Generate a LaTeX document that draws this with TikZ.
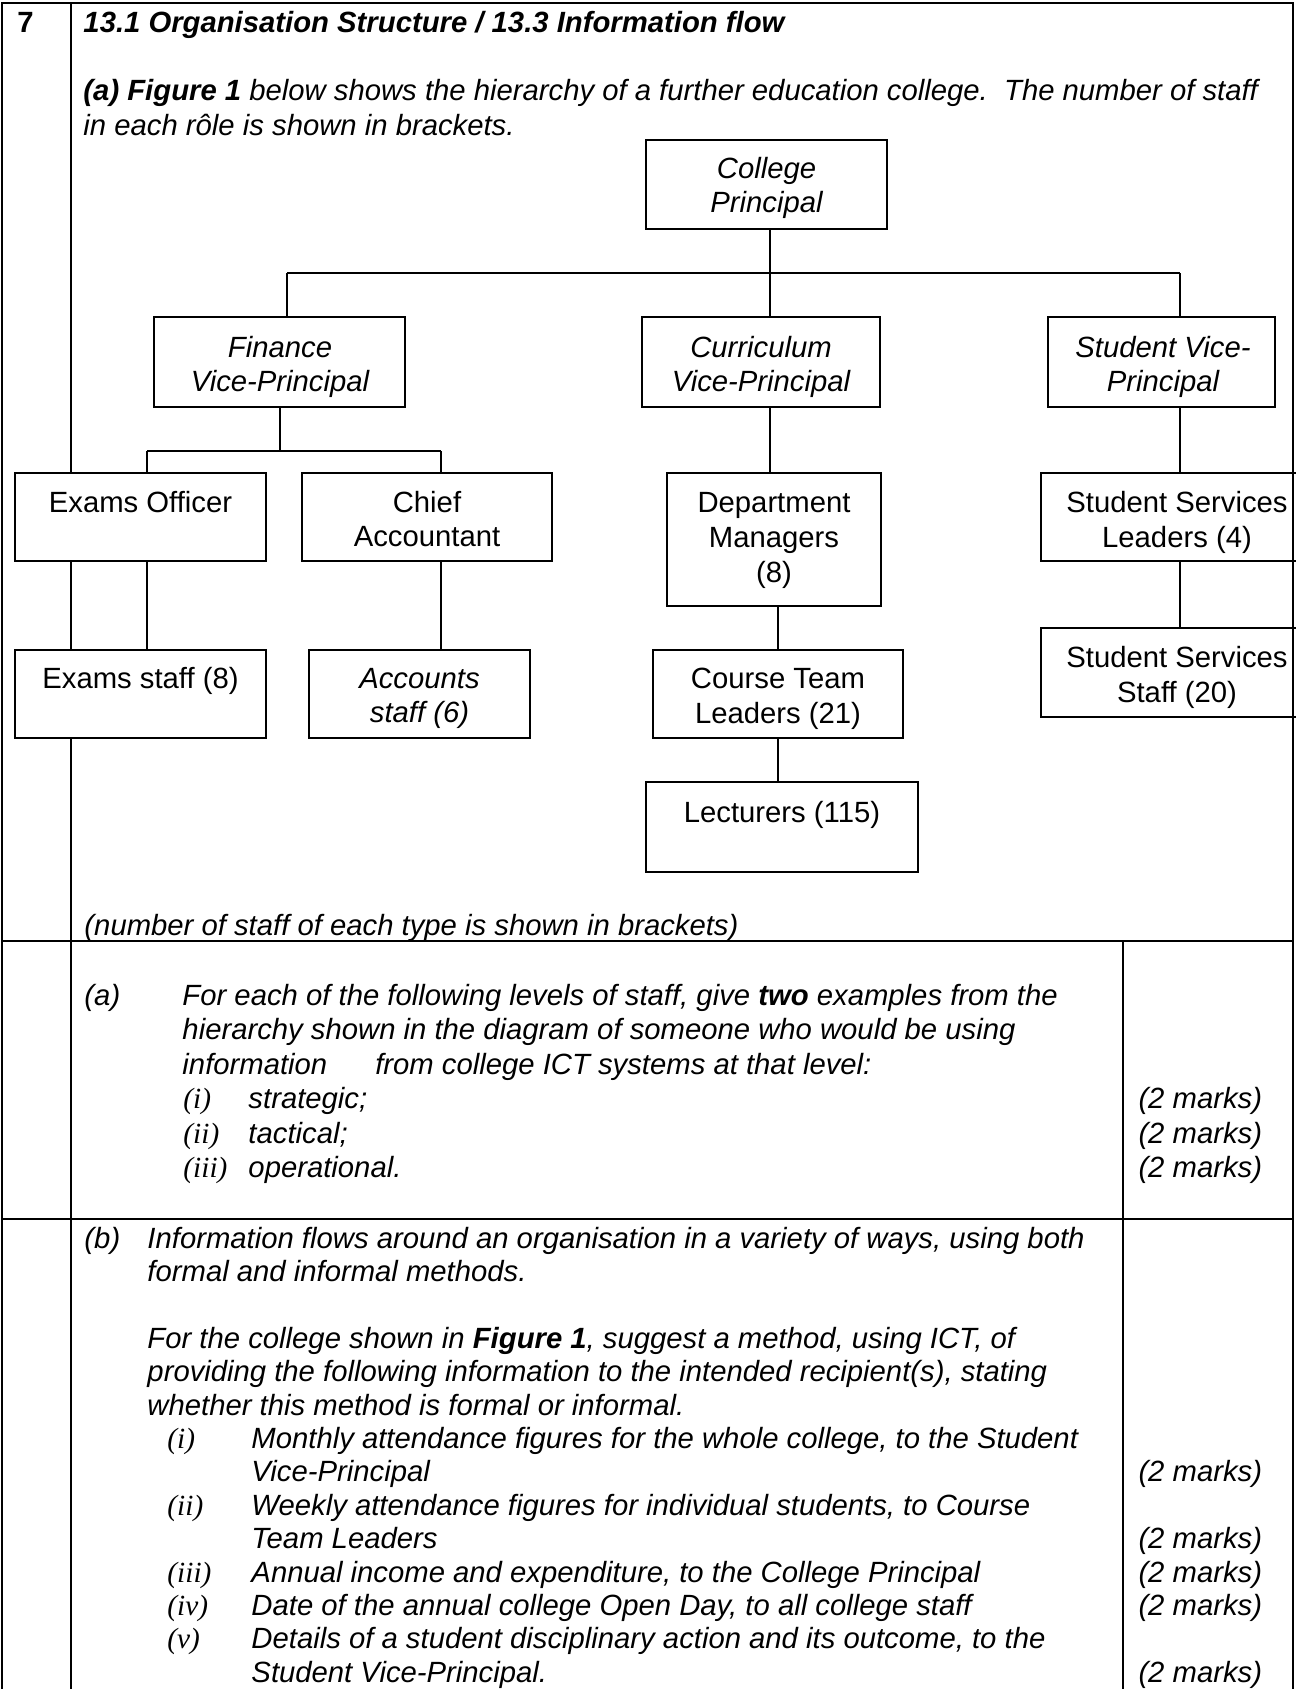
\documentclass[tikz,border=0pt]{standalone}
\usepackage{fontspec}
\setmainfont{Liberation Sans}
\newfontfamily\tms{Liberation Serif}
\usetikzlibrary{calc}
\newcommand\orgbox[5]{\node[box, minimum width={(#4-#2)*0.41pt}, minimum height={(#5-#3)*0.41pt}] (#1) at ({(#2+#4)/2},{(#3+#5)/2}) {};}
\tikzset{
 tbl/.style={line width=0.85pt, line cap=rect},
 box/.style={draw, rectangle, line width=0.6pt, fill=white, inner sep=0pt},
 conn/.style={line width=0.45pt},
 tx/.style={anchor=base west, inner sep=0pt, font=\fontsize{12}{14}\selectfont\itshape},
 txb/.style={tx, font=\fontsize{12}{14}\selectfont\bfseries\itshape},
 num/.style={tx, font=\fontsize{12}{14}\selectfont\bfseries},
 rn/.style={tx, font=\fontsize{12}{14}\selectfont\tms\itshape},
 lab/.style={anchor=base, inner sep=0pt, font=\fontsize{12}{14}\selectfont},
 labi/.style={lab, font=\fontsize{12}{14}\selectfont\itshape},
}
\begin{document}
\begin{tikzpicture}[x=0.41pt, y=-0.41pt]
\fill[white] (0,0) rectangle (1296,1689);
\useasboundingbox (0,0) rectangle (1296,1689);
\begin{scope}
\clip (0,0) rectangle (1296,1689);
% table grid
\draw[tbl] (2,3) -- (1293,3);
\draw[tbl] (2,3) -- (2,1700);
\draw[tbl] (71,3) -- (71,1700);
\draw[tbl] (2,941) -- (1293,941);
\draw[tbl] (2,1219) -- (1293,1219);
\draw[tbl] (1123,941) -- (1123,1700);

% boxes
\orgbox{cp}{646}{140}{887}{229}
\orgbox{fin}{154}{317}{405}{407}
\orgbox{cv}{642}{317}{880}{407}
\orgbox{svp}{1048}{317}{1275}{407}
\orgbox{eo}{15}{473}{266}{561}
\orgbox{ca}{302}{473}{552}{561}
\orgbox{dm}{667}{473}{881}{606}
\orgbox{ssl}{1041}{473}{1313}{561}
\orgbox{es}{15}{650}{266}{738}
\orgbox{as}{309}{650}{530}{738}
\orgbox{ctl}{653}{650}{903}{738}
\orgbox{sss}{1041}{628}{1313}{717}
\orgbox{lect}{646}{782}{918}{872}

\draw[tbl] (1293,3) -- (1293,1700);

% connectors
\coordinate (busL) at (287,273);
\coordinate (busM) at (770,273);
\coordinate (busR) at (1180,273);
\draw[conn] (busM |- cp.south) -- (busM);
\draw[conn] (busL) -- (busR);
\draw[conn] (busL) -- (busL |- fin.north);
\draw[conn] (busM) -- (busM |- cv.north);
\draw[conn] (busR) -- (busR |- svp.north);
\coordinate (fbM) at (280,451);
\coordinate (fbL) at (147,451);
\coordinate (fbR) at (441,451);
\draw[conn] (fbM |- fin.south) -- (fbM);
\draw[conn] (fbL) -- (fbR);
\draw[conn] (fbL) -- (fbL |- eo.north);
\draw[conn] (fbR) -- (fbR |- ca.north);
\draw[conn] (fbL |- eo.south) -- (fbL |- es.north);
\draw[conn] (fbR |- ca.south) -- (fbR |- as.north);
\draw[conn] (busM |- cv.south) -- (busM |- dm.north);
\coordinate (cxl) at (778,0);
\draw[conn] (cxl |- dm.south) -- (cxl |- ctl.north);
\draw[conn] (cxl |- ctl.south) -- (cxl |- lect.north);
\draw[conn] (busR |- svp.south) -- (busR |- ssl.north);
\draw[conn] (busR |- ssl.south) -- (busR |- sss.north);

% box texts
\node[labi] (cpa) at (766.5,178) {College};
\node[labi] (cpb) at (766.5,212) {Principal};
\node[labi] (fina) at (280,357) {Finance};
\node[labi] (finb) at (280,391) {Vice-Principal};
\node[labi] (cva) at (761,357) {Curriculum};
\node[labi] (cvb) at (761,391) {Vice-Principal};
\node[labi] (svpa) at (1163,357) {Student Vice-};
\node[labi] (svpb) at (1163,391) {Principal};
\node[lab] (eoa) at (140.5,512) {Exams Officer};
\node[lab] (caa) at (427,512) {Chief};
\node[lab] (cab) at (427,546) {Accountant};
\node[lab] (dma) at (774,512) {Department};
\node[lab] (dmb) at (774,547) {Managers};
\node[lab] (dmc) at (774,582) {(8)};
\node[lab] (ssla) at (1177,512) {Student Services};
\node[lab] (sslb) at (1177,547) {Leaders (4)};
\node[lab] (esa) at (140.5,688) {Exams staff (8)};
\node[labi] (asa) at (419.5,688) {Accounts};
\node[labi] (asb) at (419.5,722) {staff (6)};
\node[lab] (ctla) at (778,688) {Course Team};
\node[lab] (ctlb) at (778,723) {Leaders (21)};
\node[lab] (sssa) at (1177,667) {Student Services};
\node[lab] (sssb) at (1177,702) {Staff (20)};
\node[lab] (lecta) at (782,822) {Lecturers (115)};

% header texts
\node[num] (qnum) at (17,32) {7};
\node[txb] (title) at (83,32) {13.1 Organisation Structure / 13.3 Information flow};
\node[tx] (intro1) at (83,100.5) {\textbf{(a) Figure 1} below shows the hierarchy of a further education college.\ \ The number of staff};
\node[tx] (intro2) at (83,135) {in each rôle is shown in brackets.};
\node[tx] (capt) at (84,935) {(number of staff of each type is shown in brackets)};

% part (a)
\node[tx] (pa) at (84,1005) {(a)};
\node[tx] (pa1) at (182,1005) {For each of the following levels of staff, give \textbf{two} examples from the};
\node[tx] (pa2) at (182,1039.5) {hierarchy shown in the diagram of someone who would be using};
\node[tx] (pa3) at (182,1074) {information\hspace{19.7pt}from college ICT systems at that level:};
\node[rn] (pai) at (183,1108.5) {(i)};
\node[tx] (paia) at (248,1108.5) {strategic;};
\node[rn] (paii) at (183,1143) {(ii)};
\node[tx] (paiia) at (248,1143) {tactical;};
\node[rn] (paiii) at (183,1177.5) {(iii)};
\node[tx] (paiiia) at (248,1177.5) {operational.};
\node[tx] (ma1) at (1138,1108.5) {(2 marks)};
\node[tx] (ma2) at (1138,1143) {(2 marks)};
\node[tx] (ma3) at (1138,1177.5) {(2 marks)};

% part (b)
\node[tx] (pb) at (84,1248) {(b)};
\node[tx] (pb1) at (147,1248) {Information flows around an organisation in a variety of ways, using both};
\node[tx] (pb2) at (147,1281.4) {formal and informal methods.};
\node[tx] (pb3) at (147,1348.2) {For the college shown in \textbf{Figure 1}, suggest a method, using ICT, of};
\node[tx] (pb4) at (147,1381.6) {providing the following information to the intended recipient(s), stating};
\node[tx] (pb5) at (147,1415) {whether this method is formal or informal.};
\node[rn] (pbi) at (167,1448.4) {(i)};
\node[tx] (pbia) at (251,1448.4) {Monthly attendance figures for the whole college, to the Student};
\node[tx] (pbib) at (251,1481.8) {Vice-Principal};
\node[rn] (pbii) at (167,1515.2) {(ii)};
\node[tx] (pbiia) at (251,1515.2) {Weekly attendance figures for individual students, to Course};
\node[tx] (pbiib) at (251,1548.6) {Team Leaders};
\node[rn] (pbiii) at (167,1582) {(iii)};
\node[tx] (pbiiia) at (251,1582) {Annual income and expenditure, to the College Principal};
\node[rn] (pbiv) at (167,1615.4) {(iv)};
\node[tx] (pbiva) at (251,1615.4) {Date of the annual college Open Day, to all college staff};
\node[rn] (pbv) at (167,1648.8) {(v)};
\node[tx] (pbva) at (251,1648.8) {Details of a student disciplinary action and its outcome, to the};
\node[tx] (pbvb) at (251,1682.2) {Student Vice-Principal.};
\node[tx] (mb1) at (1138,1481.8) {(2 marks)};
\node[tx] (mb2) at (1138,1548.6) {(2 marks)};
\node[tx] (mb3) at (1138,1582) {(2 marks)};
\node[tx] (mb4) at (1138,1615.4) {(2 marks)};
\node[tx] (mb5) at (1138,1682.2) {(2 marks)};
\end{scope}
\end{tikzpicture}
\end{document}
